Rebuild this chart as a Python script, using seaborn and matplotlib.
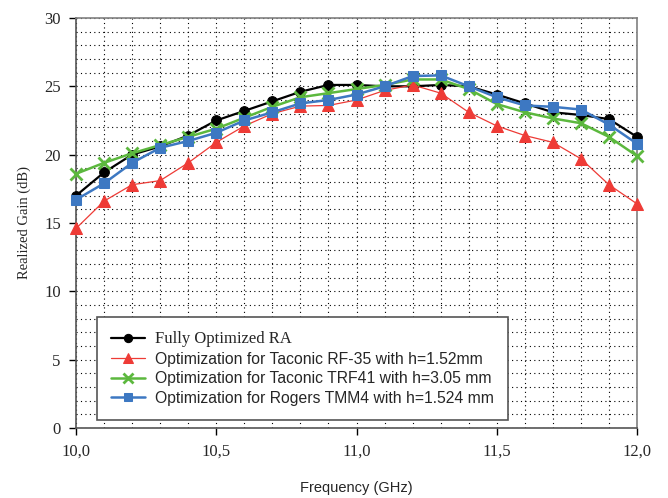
import numpy as np
import pandas as pd
import seaborn as sns
from matplotlib import pyplot as plt
from matplotlib.ticker import MultipleLocator, FuncFormatter

freq = [10.0, 10.1, 10.2, 10.3, 10.4, 10.5, 10.6, 10.7, 10.8, 10.9, 11.0,
        11.1, 11.2, 11.3, 11.4, 11.5, 11.6, 11.7, 11.8, 11.9, 12.0]
full_ra = [17.0, 18.7, 20.0, 20.6, 21.4, 22.5, 23.2, 23.9, 24.6, 25.1, 25.1,
           25.0, 25.0, 25.1, 25.0, 24.4, 23.75, 23.1, 22.9, 22.6, 21.3]
rf35 = [14.6, 16.6, 17.8, 18.1, 19.4, 20.9, 22.1, 23.0, 23.55, 23.6, 24.0,
        24.7, 25.1, 24.5, 23.1, 22.1, 21.4, 20.9, 19.7, 17.8, 16.4]
trf41 = [18.6, 19.4, 20.1, 20.7, 21.3, 21.9, 22.7, 23.5, 24.2, 24.5, 24.8,
         25.1, 25.5, 25.5, 24.8, 23.7, 23.1, 22.65, 22.3, 21.3, 19.9]
tmm4 = [16.7, 17.9, 19.4, 20.5, 21.0, 21.6, 22.5, 23.1, 23.75, 24.0, 24.4,
        25.0, 25.75, 25.8, 25.0, 24.2, 23.6, 23.5, 23.3, 22.2, 20.8]

labels = ['Fully Optimized RA',
          'Optimization for Taconic RF-35 with h=1.52mm',
          'Optimization for Taconic TRF41 with h=3.05 mm',
          'Optimization for Rogers TMM4 with h=1.524 mm']

sns.set_style('white')
plt.rcParams['font.family'] = ['Liberation Serif', 'DejaVu Serif']

fig = plt.figure(figsize=(6.68, 4.98), dpi=100)
ax = fig.add_axes([0.1138, 0.1406, 0.8398, 0.8233])

series = [
    (full_ra, labels[0], dict(color='black', marker='o', markersize=7, lw=1.6)),
    (rf35, labels[1], dict(color='#ee3b36', marker='^', markersize=8, lw=0.9)),
    (trf41, labels[2], dict(color='#5cb83e', marker='x', markersize=8,
                            markeredgewidth=2, lw=1.8)),
    (tmm4, labels[3], dict(color='#3d78c2', marker='s', markersize=7, lw=1.8)),
]
for vals, lab, kw in series:
    sns.lineplot(x=freq, y=vals, label=lab, ax=ax, markeredgecolor=kw['color'],
                 clip_on=False, zorder=3, **kw)

ax.set_xlim(10, 12)
ax.set_ylim(0, 30)
ax.xaxis.set_major_locator(MultipleLocator(0.5))
ax.xaxis.set_minor_locator(MultipleLocator(0.1))
ax.yaxis.set_major_locator(MultipleLocator(5))
ax.yaxis.set_minor_locator(MultipleLocator(1))
ax.xaxis.set_major_formatter(FuncFormatter(lambda v, p: f'{v:.1f}'.replace('.', ',')))
ax.grid(which='both', linestyle=(0, (1, 3)), color='black', lw=0.8)
ax.set_axisbelow(True)
ax.tick_params(which='major', direction='out', length=5, width=1, pad=6,
               labelsize=12, color='black', left=True, bottom=True)
ax.tick_params(which='minor', length=0)
for s in ax.spines.values():
    s.set_color('#808080')
    s.set_linewidth(1.2)
ax.spines['left'].set_color('#555555')
ax.spines['bottom'].set_color('#555555')

ax.set_xlabel('Frequency (GHz)', family='Liberation Sans', fontsize=10.5, labelpad=16)
ax.set_ylabel('Realized Gain (dB)', family='Liberation Serif', fontsize=10.5, labelpad=9)

leg = ax.legend(loc='lower left', bbox_to_anchor=(0.037, 0.02), borderaxespad=0,
                fancybox=False, framealpha=1, edgecolor='#555555',
                prop={'family': 'Liberation Sans', 'size': 11.3},
                handlelength=2.2, handletextpad=0.6, labelspacing=0.28,
                borderpad=0.9, markerscale=0.85)
leg.get_frame().set_linewidth(1.2)
leg.get_texts()[0].set_family('Liberation Serif')
leg.get_texts()[0].set_fontsize(12)

fig.savefig('out.png', dpi=100)
